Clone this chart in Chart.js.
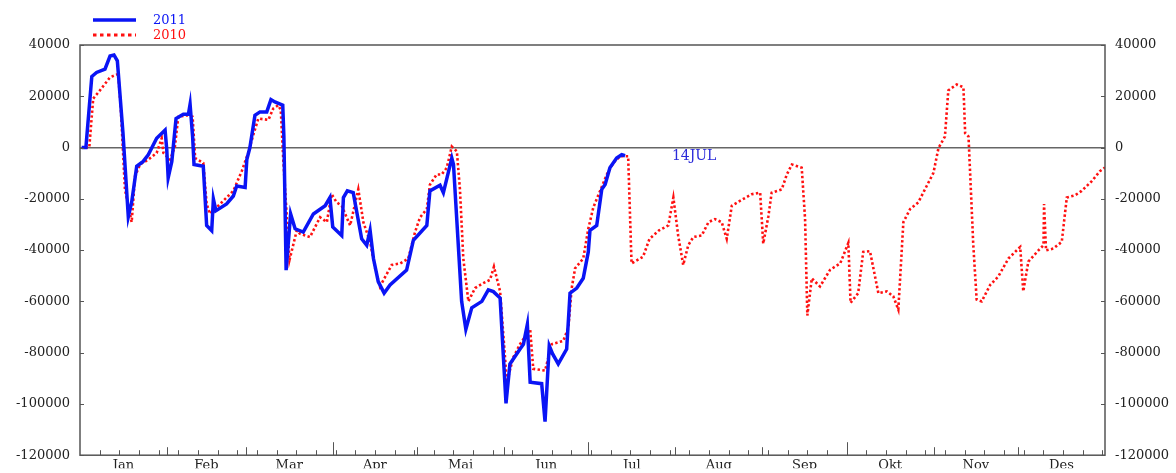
<!DOCTYPE html>
<html>
<head>
<meta charset="utf-8">
<script src="https://cdn.jsdelivr.net/npm/chart.js@4"></script>
<style>
  html, body { margin: 0; padding: 0; background: #fff; }
  #wrap { width: 1176px; height: 473px; position: relative; }
</style>
</head>
<body>
<div id="wrap"><canvas id="chartSaldo"></canvas></div>
<script>
// x values are day of year (0 = 1 Jan)
const monthLabels = ['Jan', 'Feb', 'Mar', 'Apr', 'Mai', 'Jun', 'Jul', 'Aug', 'Sep', 'Okt', 'Nov', 'Des'];
const monthStarts = [0, 31, 59, 90, 120, 151, 181, 212, 243, 273, 304, 334, 365];
const yTickValues = [40000, 20000, 0, -20000, -40000, -60000, -80000, -100000, -120000];

const days2011 = [0.6, 2.1, 4.2, 5.9, 8.9, 10.7, 12.1, 13.3, 15.3, 17.2, 18.4, 20.2, 22.5, 24.3, 27.3, 30.3, 30.9, 31.4, 32.7, 34.2,
  36.8, 38.6, 39.2, 40.1, 40.6, 43.9, 45.1, 46.9, 47.5, 48.4, 52.2, 54.6, 55.8, 58.8, 59.4, 60.5, 62.3, 64.1, 66.5, 68,
  69.4, 72.2, 72.6, 73.4, 75, 76.6, 79.5, 83.1, 87.3, 89, 90, 93.2, 93.8, 95.2, 97.3, 100.3, 102.1, 103.3, 104.5, 106.2,
  108.3, 110.4, 116.3, 118.7, 123.5, 124.6, 128.2, 129.4, 132.4, 133, 135.9, 137.4, 139.5, 143.1, 145.4, 147.2, 149.6, 151.7, 153.1, 156.7,
  157.9, 159.3, 160.3, 164.4, 165.6, 167.1, 168.3, 170.3, 173.3, 174.5, 176.9, 179.2, 181, 181.6, 184, 185.8, 187, 188.7, 191.1, 192.9,
  194.1];
const vals2011 = [0, 0, 27700, 29300, 30600, 35700, 36100, 33800, 5700, -27000, -21300, -7300, -5400, -2800, 3600, 6800, -900, -11800, -5400, 11300,
  13000, 13000, 16900, 4300, -6600, -7300, -30400, -32400, -20100, -24600, -22000, -18900, -15000, -15600, -4700, 0, 12600, 13900, 13900, 18700,
  17800, 16500, 4300, -47800, -25900, -31700, -33000, -25900, -22700, -19500, -31000, -34300, -19500, -16900, -17600, -35600, -38100, -32300, -43300, -52300,
  -56800, -53600, -47800, -36200, -30400, -16900, -14700, -17600, -4100, -6600, -60000, -70900, -62500, -60000, -55500, -56200, -58700, -99800, -84400, -78600,
  -76700, -69000, -91500, -92100, -106900, -77300, -80500, -84400, -78600, -56800, -54800, -51000, -40700, -32300, -30400, -16300, -14400, -7900, -4100, -2800,
  -3200];

const days2010 = [2, 3.3, 4.7, 7.1, 10.7, 13.6, 14.5, 16, 18.4, 19.6, 21.4, 24.3, 27.3, 29.1, 29.7, 32.1, 33.8, 35, 38, 40.1,
  41, 43.9, 45.1, 46.3, 48.7, 54.6, 57.6, 59.9, 61.7, 63.5, 67.1, 68.8, 70.6, 71.5, 72.4, 74.6, 77.2, 78.3, 81.9, 85.5,
  87.9, 89.6, 91.4, 93.2, 96.2, 99.1, 100.9, 103.3, 105.1, 106.8, 111, 114, 116.9, 119.3, 121.1, 123.5, 124.6, 127, 128.8, 130.6,
  132.4, 134.2, 135.3, 136.5, 138.3, 140.7, 143.6, 146, 147.4, 149.6, 152, 154.3, 156.7, 160.3, 161.4, 165.6, 168, 172.1, 173.9, 175.1,
  176.3, 179.2, 181, 182.8, 185.2, 187.6, 189.9, 192.3, 195.2, 196.4, 200.5, 202.8, 206.2, 209.5, 211.3, 213, 214.8, 216.6, 218.4, 221.4,
  223.8, 226.1, 228.5, 230.3, 232.1, 235, 239.2, 242.2, 243.3, 245.1, 246.3, 249.9, 251.7, 253.5, 257, 258.2, 259, 260.6, 263.5, 267.1,
  270.7, 273.6, 274.4, 277.1, 278.9, 281.3, 284.3, 287.3, 289.6, 291.4, 293.2, 295.6, 298.5, 301.5, 303.9, 305.7, 308, 309.2, 312.2, 314.6,
  315.2, 316.4, 318.1, 319.3, 321.1, 324.1, 327, 330.6, 334.2, 334.8, 335.9, 337.7, 341.3, 343.1, 343.3, 344, 346.6, 349.6, 351.4, 354.4,
  356.7, 360.3, 363.2, 365];
const vals2010 = [0, 0, 19100, 22300, 27400, 28700, 15800, -16300, -29100, -11100, -6600, -4700, -2100, 3600, -2100, -4700, 400, 12000, 12600, 12000,
  -4100, -6000, -22000, -25900, -23300, -16900, -9200, -2100, 4900, 11300, 10800, 15200, 16500, 14600, -5000, -43900, -32300, -33600, -34900, -27200,
  -29100, -18200, -21400, -22700, -30400, -16300, -29100, -36800, -47100, -54200, -45800, -45200, -43300, -33000, -27200, -24000, -14500, -10500, -10500, -7900,
  400, -1500, -16300, -43300, -60000, -54800, -52900, -51600, -46500, -56100, -91500, -81800, -76700, -70900, -86300, -87000, -76700, -75400, -70300, -54800,
  -47100, -43300, -31700, -23300, -16900, -10500, -6000, -3400, -3400, -45200, -42600, -35600, -32300, -30400, -19500, -34300, -45800, -38100, -34900, -34300,
  -29100, -27900, -29100, -35600, -22700, -20800, -18200, -17600, -37500, -27000, -17600, -16300, -10500, -6600, -7900, -27900, -65500, -51000, -54200, -47700,
  -45200, -37200, -60600, -56800, -40700, -40400, -56800, -56100, -58000, -63200, -29100, -24000, -21400, -15000, -9900, -200, 4300, 22300, 24600, 23500,
  5600, 4300, -38100, -59300, -60000, -53600, -50300, -43300, -39400, -38800, -56100, -44500, -40100, -38100, -22000, -40100, -39400, -36800, -19500, -18600,
  -16900, -13100, -9200, -7800];

const markDay = 218.7;      // where the "14JUL" note sits
const markValue = -3500;

const FONT = "'DejaVu Serif', 'Liberation Serif', serif";

const decor = {
    id: 'decor',
    afterDraw(chart) {
        const { ctx, chartArea: a, scales } = chart;
        const x = scales.x, y = scales.y;
        ctx.save();

        // frame
        ctx.strokeStyle = '#555';
        ctx.lineWidth = 1.5;
        ctx.strokeRect(a.left, a.top, a.right - a.left, a.bottom - a.top);

        // inward ticks on the bottom axis: weekly, months, quarters
        ctx.lineWidth = 1;
        ctx.beginPath();
        for (let d = 7; d < 365; d += 7) {
            const px = Math.round(x.getPixelForValue(d)) + 0.5;
            ctx.moveTo(px, a.bottom); ctx.lineTo(px, a.bottom - 5);
        }
        monthStarts.slice(1, 12).forEach((d, i) => {
            const px = Math.round(x.getPixelForValue(d)) + 0.5;
            const len = (i + 1) % 3 === 0 ? 13 : 8;
            ctx.moveTo(px, a.bottom); ctx.lineTo(px, a.bottom - len);
        });
        // inward ticks on both value axes
        yTickValues.forEach(v => {
            const py = Math.round(y.getPixelForValue(v)) + 0.5;
            ctx.moveTo(a.left, py); ctx.lineTo(a.left + 4, py);
            ctx.moveTo(a.right, py); ctx.lineTo(a.right - 4, py);
        });
        ctx.stroke();

        // legend, stacked
        ctx.font = '13px ' + FONT;
        ctx.textBaseline = 'middle';
        chart.data.datasets.forEach((ds, i) => {
            const ly = 20 + i * 15;
            ctx.beginPath();
            ctx.strokeStyle = ds.borderColor;
            ctx.lineWidth = i === 0 ? 3.5 : 3;
            ctx.setLineDash(i === 0 ? [] : [3.5, 3.5]);
            ctx.moveTo(93, ly); ctx.lineTo(136, ly);
            ctx.stroke();
            ctx.setLineDash([]);
            ctx.fillStyle = ds.borderColor;
            ctx.fillText(ds.label, 153, ly + 1);
        });

        // date note
        ctx.font = '14px ' + FONT;
        ctx.fillStyle = '#2b2bd9';
        ctx.textAlign = 'center';
        ctx.fillText('14JUL', x.getPixelForValue(markDay), y.getPixelForValue(markValue));
        ctx.restore();
    }
};

new Chart(document.getElementById('chartSaldo'), {
    type: 'line',
    data: {
        datasets: [
            {
                label: '2011',
                data: days2011.map((d, i) => ({ x: d, y: vals2011[i] })),
                borderColor: '#0a14f5',
                borderWidth: 3.5,
                pointRadius: 0, tension: 0, fill: false
            },
            {
                label: '2010',
                data: days2010.map((d, i) => ({ x: d, y: vals2010[i] })),
                borderColor: '#ff1010',
                borderWidth: 2.6,
                borderDash: [2.4, 2.4],
                pointRadius: 0, tension: 0, fill: false
            }
        ]
    },
    options: {
        responsive: true, maintainAspectRatio: false,
        devicePixelRatio: 1,
        animation: false,
        layout: { padding: { top: 45, left: 0, right: 0, bottom: 0 } },
        plugins: { legend: { display: false }, tooltip: { enabled: false } },
        scales: {
            x: {
                type: 'linear', min: 0, max: 365,
                grid: { display: false, drawTicks: false },
                border: { display: false },
                afterBuildTicks: s => { s.ticks = monthStarts.slice(0, 12).map((d, i) => ({ value: (d + monthStarts[i + 1]) / 2 })); },
                afterFit: s => { s.height = 13; },
                ticks: {
                    autoSkip: false, maxRotation: 0, padding: 3,
                    color: '#222', font: { family: FONT, size: 13 },
                    callback: (v, i) => monthLabels[i]
                }
            },
            y: {
                position: 'left', min: -120000, max: 40000,
                afterBuildTicks: s => { s.ticks = yTickValues.map(v => ({ value: v })); },
                afterFit: s => { s.width = 80; },
                grid: {
                    drawTicks: false, lineWidth: 1.5,
                    color: c => c.tick && c.tick.value === 0 ? '#666' : 'rgba(0,0,0,0)'
                },
                border: { display: false },
                ticks: { padding: 10, color: '#222', font: { family: FONT, size: 13 }, callback: v => String(v) }
            },
            y2: {
                position: 'right', min: -120000, max: 40000,
                afterBuildTicks: s => { s.ticks = yTickValues.map(v => ({ value: v })); },
                afterFit: s => { s.width = 71; },
                grid: { display: false, drawTicks: false },
                border: { display: false },
                ticks: { padding: 10, color: '#222', font: { family: FONT, size: 13 }, callback: v => String(v) }
            }
        }
    },
    plugins: [decor]
});
</script>
</body>
</html>
